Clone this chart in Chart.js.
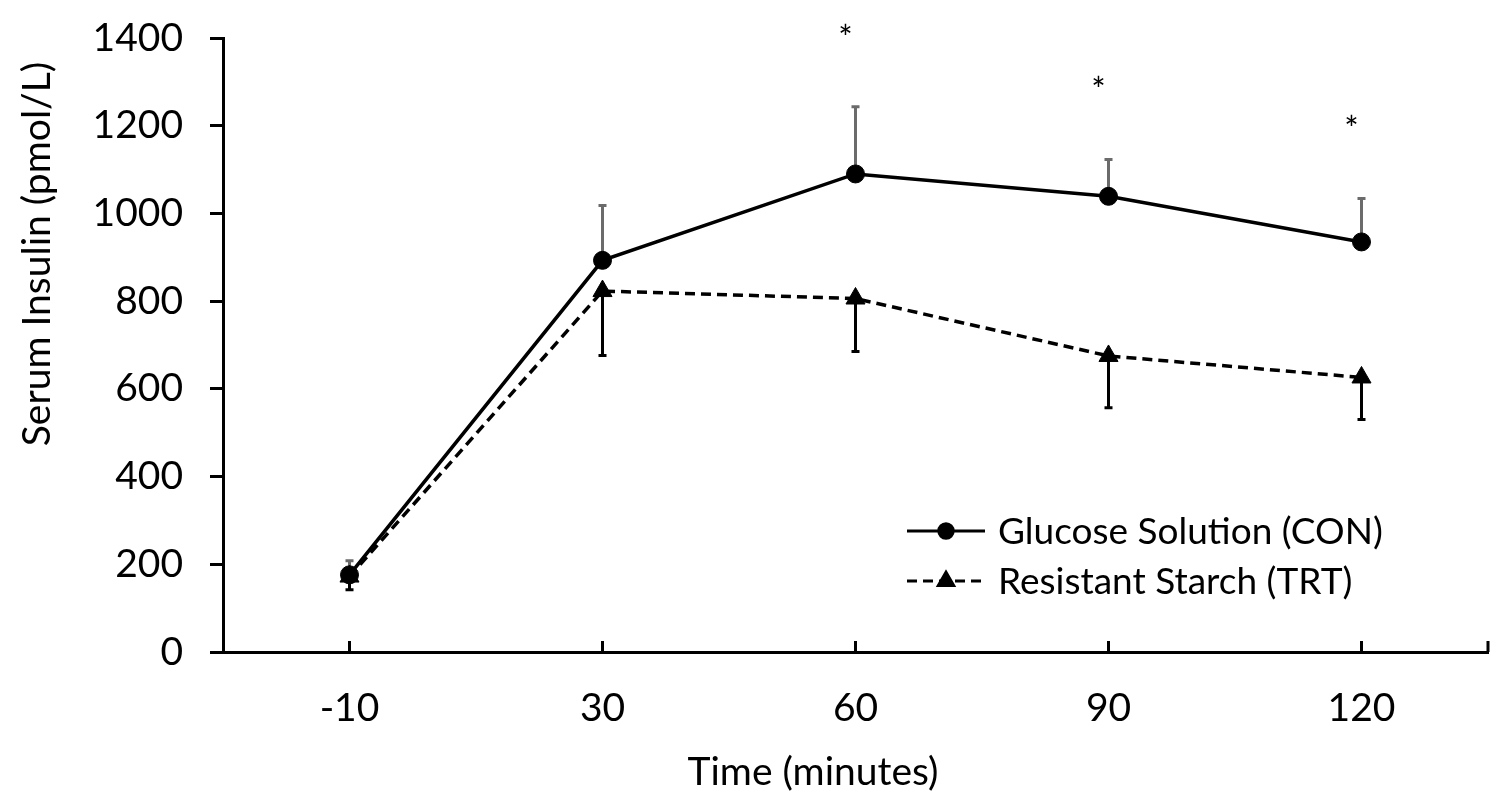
<!DOCTYPE html>
<html>
<head>
<meta charset="utf-8">
<script src="https://cdn.jsdelivr.net/npm/chart.js@4.4.1/dist/chart.umd.min.js"></script>
<style>
    html, body { margin: 0; padding: 0; background: #fff; }
    #wrap { width: 1500px; height: 794px; }
</style>
</head>
<body>
<div id="wrap"><canvas id="insulin-chart" width="1500" height="794"></canvas></div>
<script>
(function () {
    'use strict';

    const timeLabels = ['-10', '30', '60', '90', '120'];
    const conValues = [176, 893, 1090, 1039, 935];
    const conErrUp = [32, 125, 153, 84, 99];
    const trtValues = [172, 823, 806, 675, 626];
    const trtErrDown = [30, 147, 121, 118, 96];
    const conSignificant = [false, false, true, true, true];

    const FONT = 'Lato, "Open Sans", sans-serif';
    const FONT_SIZE = 39;
    const INK = '#000';

    // error bars: CON upward (grey), TRT downward (black)
    const errorBars = {
        id: 'errorBars',
        beforeDatasetsDraw(chart) {
            const ctx = chart.ctx;
            const y = chart.scales.y;
            const sets = [
                { meta: chart.getDatasetMeta(0), vals: conValues, errs: conErrUp, sign: 1, color: '#6b6b6b' },
                { meta: chart.getDatasetMeta(1), vals: trtValues, errs: trtErrDown, sign: -1, color: '#000' }
            ];
            ctx.save();
            sets.forEach(s => {
                ctx.strokeStyle = s.color;
                ctx.lineWidth = 3;
                s.meta.data.forEach((pt, i) => {
                    const end = y.getPixelForValue(s.vals[i] + s.sign * s.errs[i]);
                    ctx.beginPath();
                    ctx.moveTo(pt.x, pt.y);
                    ctx.lineTo(pt.x, end);
                    ctx.moveTo(pt.x - 4, end);
                    ctx.lineTo(pt.x + 4, end);
                    ctx.stroke();
                });
            });
            ctx.restore();
        }
    };

    // axis titles, inside x ticks, asterisks and legend
    const decorations = {
        id: 'decorations',
        afterDraw(chart) {
            const ctx = chart.ctx;
            const area = chart.chartArea;
            const x = chart.scales.x;
            const y = chart.scales.y;
            ctx.save();

            // x tick marks pointing up into the plot
            ctx.strokeStyle = INK;
            ctx.lineWidth = 3;
            ctx.beginPath();
            timeLabels.forEach((_, i) => {
                const px = x.getPixelForTick(i);
                ctx.moveTo(px, area.bottom);
                ctx.lineTo(px, area.bottom - 11);
            });
            ctx.moveTo(area.right, area.bottom);
            ctx.lineTo(area.right, area.bottom - 11);
            ctx.stroke();

            // significance marks
            ctx.fillStyle = INK;
            ctx.font = '34px ' + FONT;
            ctx.textAlign = 'center';
            ctx.textBaseline = 'middle';
            const conMeta = chart.getDatasetMeta(0);
            conSignificant.forEach((sig, i) => {
                if (!sig) return;
                const top = y.getPixelForValue(conValues[i] + conErrUp[i]);
                ctx.fillText('*', conMeta.data[i].x - 10, top - 68);
            });

            // axis titles
            ctx.font = FONT_SIZE + 'px ' + FONT;
            ctx.fillText('Time (minutes)', 813, 772);
            ctx.translate(37, 254);
            ctx.rotate(-Math.PI / 2);
            ctx.fillText('Serum Insulin (pmol/L)', 0, 0);
            ctx.setTransform(1, 0, 0, 1, 0, 0);

            // legend
            ctx.font = '37px ' + FONT;
            const rows = [
                { ds: chart.data.datasets[0], y: 531 },
                { ds: chart.data.datasets[1], y: 581 }
            ];
            rows.forEach(r => {
                ctx.strokeStyle = INK;
                ctx.lineWidth = 3;
                ctx.setLineDash(r.ds.borderDash || []);
                ctx.beginPath();
                ctx.moveTo(907, r.y);
                ctx.lineTo(985, r.y);
                ctx.stroke();
                ctx.setLineDash([]);
                Chart.helpers.drawPoint(ctx, {
                    pointStyle: r.ds.pointStyle,
                    radius: r.ds.pointRadius * 0.8,
                    borderWidth: 1
                }, 946, r.y);
                ctx.fillStyle = INK;
                ctx.fill();
                ctx.textAlign = 'left';
                ctx.fillText(r.ds.label, 998, r.y + 1);
            });
            ctx.restore();
        }
    };

    new Chart(document.getElementById('insulin-chart').getContext('2d'), {
        type: 'line',
        data: {
            labels: timeLabels,
            datasets: [{
                label: 'Glucose Solution (CON)',
                data: conValues,
                borderColor: INK,
                backgroundColor: INK,
                borderWidth: 3.5,
                pointStyle: 'circle',
                pointRadius: 9,
                pointBorderWidth: 1,
                tension: 0
            }, {
                label: 'Resistant Starch (TRT)',
                data: trtValues,
                borderColor: INK,
                backgroundColor: INK,
                borderWidth: 3.5,
                borderDash: [10, 6],
                pointStyle: 'triangle',
                pointRadius: 11,
                pointBorderWidth: 1,
                tension: 0
            }]
        },
        options: {
            responsive: false,
            animation: false,
            devicePixelRatio: 1,
            layout: { padding: { left: 0, top: 38, right: 6, bottom: 0 } },
            plugins: {
                legend: { display: false },
                tooltip: { enabled: false }
            },
            scales: {
                x: {
                    type: 'category',
                    offset: true,
                    grid: { display: true, drawOnChartArea: false, drawTicks: false },
                    border: { color: INK, width: 3 },
                    ticks: { color: INK, font: { family: FONT, size: FONT_SIZE }, padding: 33 },
                    afterFit(scale) { scale.height = 142; }
                },
                y: {
                    min: 0,
                    max: 1400,
                    grid: { drawOnChartArea: false, drawTicks: true, tickLength: 13, color: INK, lineWidth: 3 },
                    border: { color: INK, width: 3 },
                    ticks: {
                        stepSize: 200,
                        color: INK,
                        font: { family: FONT, size: FONT_SIZE },
                        padding: 27,
                        callback: v => String(v)
                    },
                    afterFit(scale) {
                        scale.width = 223;
                        scale.paddingTop = 10;
                    }
                }
            }
        },
        plugins: [errorBars, decorations]
    });
})();
</script>
</body>
</html>
